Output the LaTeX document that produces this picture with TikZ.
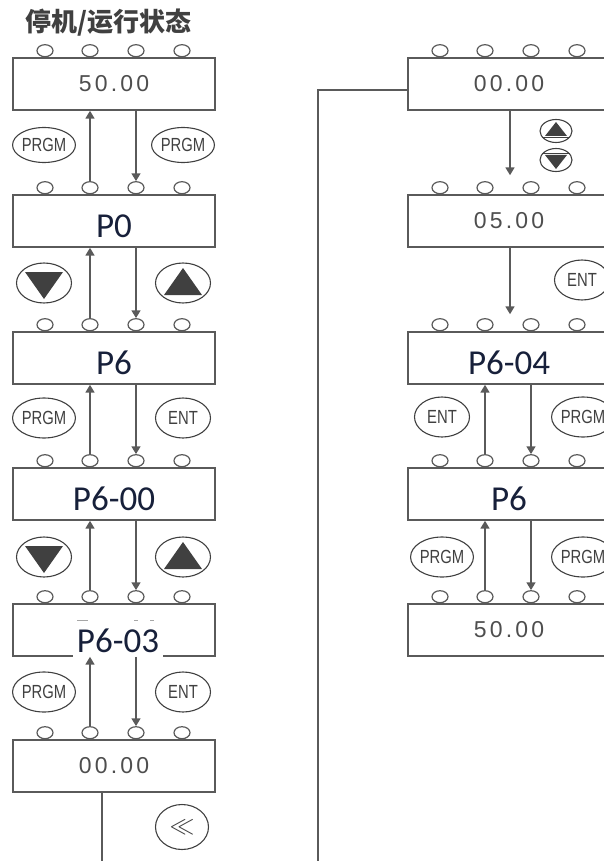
\documentclass[tikz,border=0pt]{standalone}
\usepackage{fontspec}
\usetikzlibrary{arrows.meta,shapes.geometric}
\newfontfamily\numfont[LetterSpace=14]{Liberation Sans}
\newfontfamily\pfont{Carlito}
\newfontfamily\keyfont{Liberation Sans}
\newfontfamily\cjkfont{Noto Sans CJK SC}
\definecolor{linegray}{HTML}{5A5A5A}
\definecolor{numgray}{HTML}{4E4E4E}
\definecolor{keygray}{HTML}{404040}
\definecolor{pnavy}{HTML}{17203A}
\newcommand{\narrow}[1]{\scalebox{0.78}[1]{#1}}

\tikzset{
  panel/.style={draw=linegray, line width=1.6pt, fill=white, minimum width=202pt, minimum height=52pt, inner sep=0pt},
  valbox/.style={panel, font=\numfont\fontsize{23}{25}\selectfont, text=numgray},
  parambox/.style={panel, font=\pfont\fontsize{35}{38}\selectfont, text=pnavy, text height=32pt, text depth=0pt},
  led/.style={ellipse, draw=linegray, line width=1.2pt, fill=white, minimum width=16pt, minimum height=12pt, inner sep=0pt},
  key/.style={ellipse, draw=keygray, line width=1.1pt, minimum width=55pt, minimum height=40pt, inner sep=0pt, font=\keyfont\fontsize{19}{20}\selectfont, text=keygray},
  smallkey/.style={key, minimum width=32pt, minimum height=23pt},
  flow/.style={draw=linegray, line width=1.4pt, -{Triangle[angle=60:9pt]}},
  wire/.style={draw=linegray, line width=1.6pt},
  remnant/.style={draw=gray!70, line width=1pt},
}

\begin{document}
\begin{tikzpicture}[x=1pt, y=-1pt]
  \useasboundingbox (0,0) rectangle (604,861);
  \clip (0,0) rectangle (604,861);

  \node[anchor=west, font=\cjkfont\bfseries\fontsize{26}{28}\selectfont, text=keygray] (ttl) at (22,23) {停机/运行状态};

  % left column
  \node[valbox]   (l50)   at (114,84)  {50.00};
  \node[parambox] (lp0)   at (114,221) {P0};
  \node[parambox] (lp6)   at (114,358) {P6};
  \node[parambox] (lp600) at (114,494) {P6-00};
  \node[parambox] (lp603) at (114,630) {};
  \node[valbox]   (l00)   at (114,766) {00.00};

  % right column
  \node[valbox]   (r00)   at (509,84)  {00.00};
  \node[valbox]   (r05)   at (509,221) {05.00};
  \node[parambox] (rp604) at (509,358) {P6-04};
  \node[parambox] (rp6)   at (509,494) {P6};
  \node[valbox]   (r50)   at (509,630) {50.00};

  % P6-03 sits over the lower edge
  \node[parambox, draw=none, minimum width=90pt, minimum height=37pt, text height=22.5pt] (lp603t) at (118,641) {P6-03};
  \draw[remnant] (77,620) -- (88,620) (134,620) -- (138,620) (150,620) -- (154,620);

  % lamps
  \foreach \b in {l50,lp0,lp6,lp600,lp603,l00,r00,r05,rp604,rp6,r50}
    \foreach \dx [count=\i] in {-69,-24,22,68}
      \node[led] (\b-\i) at ([xshift=\dx pt, yshift=6.5pt]\b.north) {};

  % keys
  \node[key, minimum height=35pt] (k1) at (44,145)  {\narrow{PRGM}};
  \node[key, minimum height=35pt] (k2) at (183,145) {\narrow{PRGM}};
  \node[key] (k3)  at (44,283)  {};
  \node[key] (k4)  at (183,283) {};
  \node[key] (k5)  at (44,418)  {\narrow{PRGM}};
  \node[key] (k6)  at (183,418) {\narrow{ENT}};
  \node[key] (k7)  at (44,557)  {};
  \node[key] (k8)  at (183,557) {};
  \node[key] (k9)  at (44,692)  {\narrow{PRGM}};
  \node[key] (k10) at (183,692) {\narrow{ENT}};
  \node[key, minimum width=53pt, minimum height=45pt, font=\fontsize{26}{28}\selectfont] (k11) at (182,827) {$\ll$};
  \node[smallkey] (k12) at (556,131) {};
  \node[smallkey] (k13) at (556,160) {};
  \node[key] (k14) at (582,280) {\narrow{ENT}};
  \node[key] (k15) at (442,417) {\narrow{ENT}};
  \node[key] (k16) at (583,417) {\narrow{PRGM}};
  \node[key] (k17) at (442,557) {\narrow{PRGM}};
  \node[key] (k18) at (583,557) {\narrow{PRGM}};

  \foreach \k in {k3,k7}
    \fill[keygray] ([shift={(-19,-11)}]\k.center) -- ++(38,0) -- ([shift={(0,16)}]\k.center) -- cycle;
  \foreach \k in {k4,k8}
    \fill[keygray] ([shift={(-19,12)}]\k.center) -- ++(38,0) -- ([shift={(0,-15)}]\k.center) -- cycle;
  \fill[keygray] ([shift={(-11,5)}]k12.center) -- ++(22,0) -- ([shift={(0,-9)}]k12.center) -- cycle;
  \draw[keygray, line width=0.8pt] ([shift={(-14,6.5)}]k12.center) -- ++(28,0);
  \fill[keygray] ([shift={(-11,-5)}]k13.center) -- ++(22,0) -- ([shift={(0,9)}]k13.center) -- cycle;
  \draw[keygray, line width=0.8pt] ([shift={(-14,-6.5)}]k13.center) -- ++(28,0);

  % left arrows
  \draw[flow] (lp0-2.north) -- (lp0-2.north |- l50.south);
  \draw[flow] (lp0-3.north |- l50.south) -- (lp0-3.north);
  \draw[flow] (lp6-2.north) -- (lp6-2.north |- lp0.south);
  \draw[flow] (lp6-3.north |- lp0.south) -- (lp6-3.north);
  \draw[flow] (lp600-2.north) -- (lp600-2.north |- lp6.south);
  \draw[flow] (lp600-3.north |- lp6.south) -- (lp600-3.north);
  \draw[flow] (lp603-2.north) -- (lp603-2.north |- lp600.south);
  \draw[flow] (lp603-3.north |- lp600.south) -- (lp603-3.north);
  \draw[flow] (l00-2.north) -- (l00-2.north |- lp603.south);
  \draw[flow] (l00-3.north |- lp603.south) -- (l00-3.north);

  % right arrows
  \draw[flow] ([xshift=1pt]r00.south) -- ([xshift=1pt, yshift=19pt]r05.north);
  \draw[flow] ([xshift=1pt]r05.south) -- ([xshift=1pt, yshift=17pt]rp604.north);
  \draw[flow] (rp6-2.north) -- (rp6-2.north |- rp604.south);
  \draw[flow] (rp6-3.north |- rp604.south) -- (rp6-3.north);
  \draw[flow] (r50-2.north) -- (r50-2.north |- rp6.south);
  \draw[flow] (r50-3.north |- rp6.south) -- (r50-3.north);

  % return line
  \coordinate (jbot) at (318,880);
  \draw[wire] ([xshift=-12pt]l00.south) |- (jbot) |- ([yshift=-6pt]r00.west);
\end{tikzpicture}
\end{document}
